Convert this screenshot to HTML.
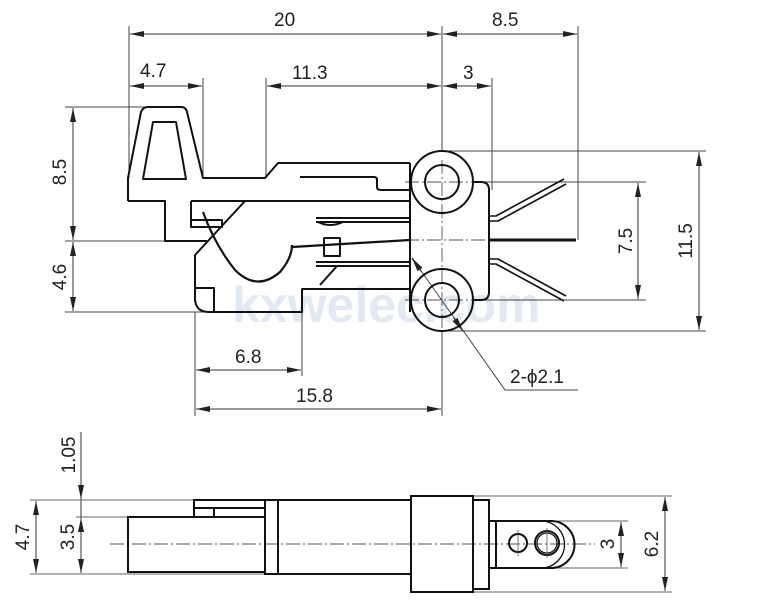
<!DOCTYPE html>
<html><head><meta charset="utf-8"><style>
html,body{margin:0;padding:0;background:#fff;}
svg{display:block;}
text{font-family:"Liberation Sans",Arial,sans-serif;fill:#222;font-size:19px;}
</style></head><body>
<svg width="775" height="610" viewBox="0 0 775 610" xmlns="http://www.w3.org/2000/svg">
<defs>
<marker id="a" viewBox="0 0 14 6" refX="14" refY="3" markerWidth="14" markerHeight="6" orient="auto-start-reverse" markerUnits="userSpaceOnUse"><path d="M0,0 L14,3 L0,6 Z" fill="#222"/></marker>
</defs>
<!-- watermark -->
<text x="232" y="322" style="font-size:50px;font-weight:bold;fill:#e3e9f2">kxwelec.com</text>

<g stroke="#444" stroke-width="1" fill="none">
<!-- extension lines top -->
<line x1="129" y1="26" x2="129" y2="178"/>
<line x1="442" y1="26" x2="442" y2="152"/>
<line x1="578" y1="26" x2="578" y2="240"/>
<line x1="203" y1="78" x2="203" y2="178"/>
<line x1="266" y1="78" x2="266" y2="178"/>
<line x1="492" y1="78" x2="492" y2="190"/>
<!-- left ext -->
<line x1="65" y1="107" x2="150" y2="107"/>
<line x1="65" y1="241" x2="208" y2="241"/>
<line x1="65" y1="312" x2="205" y2="312"/>
<!-- right ext -->
<line x1="442" y1="151" x2="706" y2="151"/>
<line x1="476" y1="182" x2="646" y2="182"/>
<line x1="476" y1="300" x2="646" y2="300"/>
<line x1="442" y1="331" x2="706" y2="331"/>
<!-- bottom ext -->
<line x1="195" y1="312" x2="195" y2="416"/>
<line x1="302" y1="290" x2="302" y2="376"/>
<line x1="442" y1="331" x2="442" y2="416"/>
<!-- leader -->
<polyline points="412,258 505,390 578,390"/>
</g>
<!-- dimension lines -->
<g stroke="#333" stroke-width="1" marker-start="url(#a)" marker-end="url(#a)">
<line x1="130" y1="34" x2="441" y2="34"/>
<line x1="443" y1="34" x2="577" y2="34"/>
<line x1="130" y1="86" x2="202" y2="86"/>
<line x1="267" y1="86" x2="441" y2="86"/>
<line x1="443" y1="86" x2="491" y2="86"/>
<line x1="73" y1="108" x2="73" y2="240"/>
<line x1="73" y1="242" x2="73" y2="311"/>
<line x1="638" y1="183" x2="638" y2="299"/>
<line x1="699" y1="152" x2="699" y2="330"/>
<line x1="196" y1="370" x2="301" y2="370"/>
<line x1="196" y1="409" x2="441" y2="409"/>
<line x1="36" y1="501" x2="36" y2="573"/>
<line x1="81" y1="518" x2="81" y2="573"/>
<line x1="621" y1="522" x2="621" y2="567"/>
<line x1="665" y1="497" x2="665" y2="591"/>
</g>
<line x1="81" y1="432" x2="81" y2="499" stroke="#333" marker-end="url(#a)"/>
<line x1="81" y1="499" x2="81" y2="518" stroke="#333"/>
<!-- leader arrows -->
<line x1="412" y1="258" x2="421" y2="271" stroke="#333" marker-start="url(#a)" stroke-width="1.5"/>
<line x1="454" y1="318" x2="463" y2="331" stroke="#333" marker-end="url(#a)" stroke-width="1.5"/>

<!-- center lines -->
<g stroke="#555" stroke-width="0.9" stroke-dasharray="14,3,2,3" fill="none">
<line x1="442" y1="160" x2="442" y2="340"/>
<line x1="405" y1="182" x2="478" y2="182"/>
<line x1="405" y1="300" x2="478" y2="300"/>
<line x1="405" y1="240" x2="490" y2="240"/>
<line x1="110" y1="544" x2="595" y2="544"/>
</g>

<!-- main drawing top -->
<g stroke="#111" stroke-width="2" fill="none" stroke-linejoin="round">
<path d="M128,201 L128,178 L141,112 Q143,107 148,107 L181,107 Q186,107 187,112 L203,178 L265,178 L278,163 L410,163"/>
<path d="M153,122 L176,122 L186,179 L143,179 Z"/>
<path d="M128,201 L165,201 L165,241 L207,241"/>
<path d="M191,201 L410,201"/>
<path d="M191,201 L191,227 L222,227 L222,220 L191,220"/>
<path d="M300,177 L374,177 Q377,177 377,180 L377,187 Q377,190 381,190 L410,190"/>
<path d="M245,201 L195,255 L195,298 Q195,312 209,312 L302,312 L302,289 L410,289"/>
<path d="M214,312 L214,288 L195,288"/>
<path d="M410,163 L410,312"/>
<path d="M316,218 L410,218 M316,222 L410,222 M318,222 Q330,228 343,222"/>
<path d="M316,262 L410,262 M316,266 L410,266 M337,266 L320,285"/>
<rect x="324" y="238" width="16" height="18"/>
<path d="M203,212 Q215,245 235,270 Q257,292 280,272 Q292,258 292,245" stroke-width="2.2"/>
<path d="M292,247 L410,240" stroke-width="2.2"/>
<circle cx="442" cy="182" r="31"/><circle cx="442" cy="182" r="17"/>
<circle cx="442" cy="300" r="31"/><circle cx="442" cy="300" r="17"/>
<path d="M472,182 L481,182 Q489,182 489,190 L489,292 Q489,300 481,300 L472,300"/>
<path d="M489,240 L576,240" stroke-width="3"/>
<path d="M489,216 L496,216 L564,179 M489,221 L498,221 L566,184" stroke-width="1.6"/>
<path d="M489,259 L498,259 L566,296 M489,264 L496,264 L564,301" stroke-width="1.6"/>
</g>

<!-- bottom view -->
<g stroke="#666" stroke-width="1" fill="none">
<line x1="30" y1="500" x2="194" y2="500"/>
<line x1="30" y1="574" x2="278" y2="574"/>
<line x1="76" y1="517" x2="128" y2="517"/>
<line x1="473" y1="496" x2="672" y2="496"/>
<line x1="473" y1="592" x2="672" y2="592"/>
<line x1="555" y1="521" x2="628" y2="521"/>
<line x1="555" y1="568" x2="628" y2="568"/>
</g>
<g stroke="#111" stroke-width="2" fill="none">
<rect x="128" y="517" width="137" height="55"/>
<path d="M194,517 L194,500 L278,500 M194,508 L265,508 L265,517 M214,508 L214,517"/>
<rect x="265" y="500" width="13" height="74"/>
<path d="M278,500 L411,500 M278,574 L411,574"/>
<rect x="411" y="496" width="62" height="96"/>
<rect x="473" y="500" width="16" height="89"/>
<path d="M489,521 L496,521 L496,568 L489,568"/>
<path d="M496,521 L551,521 A23.5,23.5 0 0 1 551,568 L496,568"/>
<path d="M551,521 A23.5,23.5 0 0 1 551,568" transform="translate(-10,0)" stroke-width="1.3"/>
<circle cx="518" cy="543" r="9"/>
<circle cx="547" cy="543" r="12"/>
<circle cx="547" cy="543" r="10" stroke-width="1.2"/>
</g>
<g stroke="#555" stroke-width="0.8"><line x1="518" y1="530" x2="518" y2="556"/><line x1="547" y1="528" x2="547" y2="558"/></g>

<!-- labels -->
<text x="274" y="26">20</text>
<text x="492" y="26">8.5</text>
<text x="140" y="77">4.7</text>
<text x="292" y="79">11.3</text>
<text x="463" y="79">3</text>
<text x="235" y="363">6.8</text>
<text x="296" y="402">15.8</text>
<text x="510" y="383">2-ϕ2.1</text>
<text transform="translate(66,172) rotate(-90)" text-anchor="middle">8.5</text>
<text transform="translate(66,277) rotate(-90)" text-anchor="middle">4.6</text>
<text transform="translate(632,241) rotate(-90)" text-anchor="middle">7.5</text>
<text transform="translate(692,241) rotate(-90)" text-anchor="middle">11.5</text>
<text transform="translate(75,455) rotate(-90)" text-anchor="middle">1.05</text>
<text transform="translate(29,537) rotate(-90)" text-anchor="middle">4.7</text>
<text transform="translate(74,537) rotate(-90)" text-anchor="middle">3.5</text>
<text transform="translate(614,544) rotate(-90)" text-anchor="middle">3</text>
<text transform="translate(658,544) rotate(-90)" text-anchor="middle">6.2</text>
</svg>
</body></html>
